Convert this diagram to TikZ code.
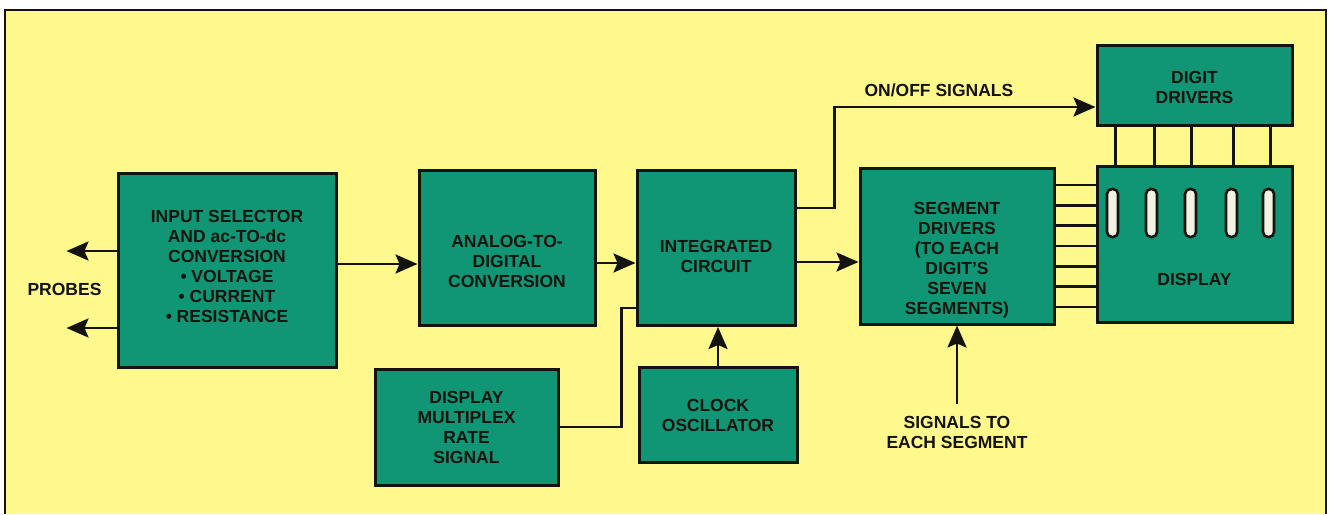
\documentclass[tikz,border=0pt]{standalone}
\usepackage{fontspec}
\setmainfont{Liberation Sans}
\usetikzlibrary{positioning}
\usetikzlibrary{calc}
\usetikzlibrary{arrows.meta}
\definecolor{paper}{RGB}{255,248,140}
\definecolor{board}{RGB}{16,150,116}
\definecolor{ink}{RGB}{20,20,15}
\definecolor{lamp}{RGB}{245,240,228}

\begin{document}
\begin{tikzpicture}[x=1pt, y=-1pt,
        box/.style={draw=ink, fill=board, line width=3pt, inner sep=0pt},
        txt/.style={font=\bfseries\fontsize{17.5}{20}\selectfont, align=center, text=ink, inner sep=1pt},
        wire/.style={draw=ink, line width=2.6pt},
        arr/.style={wire, -{Stealth[length=22pt, width=19pt, inset=4pt]}},
        slot/.style={draw=ink, fill=lamp, line width=2.6pt, rounded corners=5pt, minimum width=11pt, minimum height=48pt}]
            \useasboundingbox (0,0) rectangle (1329,514);
            \fill[paper] (5,10) rectangle (1326,514);
            \draw[ink, line width=2.4pt] (5,514) -- (5,10) -- (1326,10) -- (1326,514);

            \node[box, minimum width=176pt, minimum height=155pt] (adc) at (507,248) {};
            \node[box, minimum width=218pt, minimum height=194pt, left=80pt of adc, yshift=-22pt] (sel) {};
            \node[box, minimum width=158pt, minimum height=155pt, right=39pt of adc] (ic) {};
            \node[box, minimum width=194pt, minimum height=156pt, right=62pt of ic, yshift=2pt] (seg) {};
            \node[box, minimum width=195pt, minimum height=156pt, right=40pt of seg, yshift=2pt] (disp) {};
            \node[box, minimum width=195pt, minimum height=80pt, above=38pt of disp] (dd) {};
            \node[box, minimum width=158pt, minimum height=95pt, below=39pt of ic, xshift=2pt] (clk) {};
            \node[box, minimum width=183pt, minimum height=116pt, left=78pt of clk, yshift=-12pt] (dmr) {};

            \node[txt, yshift=4pt] (seltext) at (sel) {INPUT SELECTOR\\AND ac-TO-dc\\CONVERSION\\• VOLTAGE\\• CURRENT\\• RESISTANCE};
            \node[txt, yshift=-13pt] (adctext) at (adc) {ANALOG-TO-\\DIGITAL\\CONVERSION};
            \node[txt, yshift=-8pt] (ictext) at (ic) {INTEGRATED\\CIRCUIT};
            \node[txt, yshift=-14pt] (segtext) at (seg) {SEGMENT\\DRIVERS\\(TO EACH\\DIGIT'S\\SEVEN\\SEGMENTS)};
            \node[txt, yshift=-2pt] (ddtext) at (dd) {DIGIT\\DRIVERS};
            \node[txt, yshift=-35pt] (disptext) at (disp) {DISPLAY};
            \node[txt] (clktext) at (clk) {CLOCK\\OSCILLATOR};
            \node[txt] (dmrtext) at (dmr) {DISPLAY\\MULTIPLEX\\RATE\\SIGNAL};

            \foreach \dx [count=\i] in {-82,-43,-4,37,74}
                \node[slot] (lamp\i) at ([xshift=\dx pt, yshift=31pt]disp.center) {};

            \coordinate[left=50pt of sel.west, yshift=19pt] (probeA);
            \coordinate[left=50pt of sel.west, yshift=-58pt] (probeB);
            \draw[arr] (sel.west |- probeA) -- (probeA);
            \draw[arr] (sel.west |- probeB) -- (probeB);
            \node[txt, xshift=-2pt] (probes) at ($(probeA)!0.5!(probeB)$) {PROBES};

            \draw[arr] ([yshift=-16pt]adc.west -| sel.east) -- ([yshift=-16pt]adc.west);
            \draw[arr] ([yshift=-15pt]adc.east) -- ([yshift=-15pt]ic.west);
            \draw[arr] ([yshift=-14pt]ic.east) -- ([yshift=-14pt]ic.east -| seg.west);
            \draw[arr] ([yshift=40pt]ic.east) -- ++(38pt,0) |- node[txt, pos=0.7, above=8pt] (onoff) {ON/OFF SIGNALS} ([yshift=-22pt]dd.west);
            \draw[wire] (dmr.east) -- ++(62pt,0) |- ([yshift=-60pt]ic.west);
            \draw[arr] (clk.north) -- (clk.north |- ic.south);

            \node[txt, below=90pt of seg] (sig) {SIGNALS TO\\EACH SEGMENT};
            \draw[arr, shorten <=12pt] (sig) -- (seg);

            \foreach \k in {-3,...,3}
                \draw[wire] ([yshift=\k*20.3pt]seg.east) -- ([yshift=\k*20.3pt]seg.east -| disp.west);
            \foreach \dx in {-79,-40,-3,39,76}
                \draw[wire] ([xshift=\dx pt]dd.south) -- ([xshift=\dx pt]dd.south |- disp.north);
        \end{tikzpicture}
\end{document}
